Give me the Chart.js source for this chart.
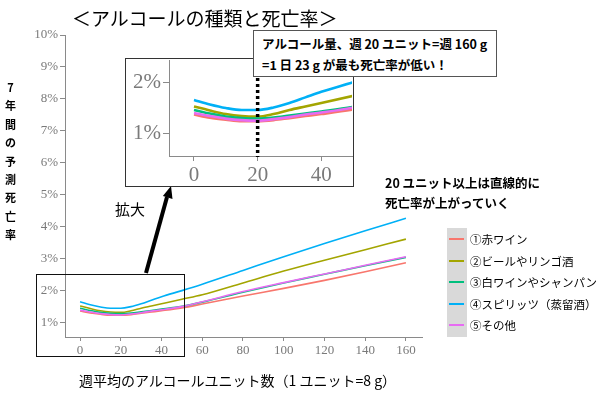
<!DOCTYPE html>
<html>
<head>
<meta charset="utf-8">
<script src="https://cdn.jsdelivr.net/npm/chart.js@4.4.0/dist/chart.umd.min.js"></script>
<style>
  body { margin: 0; background: #fff; font-family: "Noto Sans CJK JP", sans-serif; }
  #wrap { position: relative; width: 600px; height: 396px; overflow: hidden; }
  .abs { position: absolute; white-space: nowrap; }
  #title { left: 72px; top: 5px; font-size: 19px; line-height: 26px; }
  #ytitle { left: 3px; top: 78px; width: 15px; font-size: 11px; font-weight: bold; line-height: 18.4px; text-align: center; white-space: normal; }
  #xtitle { left: 79px; top: 370px; font-size: 14px; line-height: 20px; }
  #inset { left: 125px; top: 58px; width: 228px; height: 128px; background: #fff; }
  #insetBorder { left: 125px; top: 58px; width: 227px; height: 127px; border: 1px solid #333; }
  #note { left: 253px; top: 30px; width: 244px; height: 47px; background: #fff; border: 1px solid #555;
          font-size: 12.5px; font-weight: bold; line-height: 21px; padding: 0 0 0 8px; box-sizing: border-box; padding-top: 2px; }
  #zoomBox { left: 36px; top: 274px; width: 147px; height: 81px; border: 1px solid #111; }
  #kakudai { left: 115px; top: 199px; font-size: 15px; line-height: 20px; }
  #trend { left: 385px; top: 173px; font-size: 12.5px; font-weight: bold; line-height: 19.5px; }
  #legendBg { left: 447px; top: 228px; width: 20px; height: 109px; background: #d9d9d9; }
  .key { position: absolute; left: 449px; width: 15px; height: 2px; }
  .lab { position: absolute; left: 470px; font-size: 11.5px; line-height: 16px; white-space: nowrap; }
</style>
</head>
<body>
<div id="wrap">
  <canvas id="mainChart" width="600" height="396" class="abs" style="left:0;top:0"></canvas>
  <div id="title" class="abs">＜アルコールの種類と死亡率＞</div>
  <div id="ytitle" class="abs">7<br>年<br>間<br>の<br>予<br>測<br>死<br>亡<br>率</div>
  <div id="xtitle" class="abs">週平均のアルコールユニット数（1 ユニット=8 g）</div>
  <div id="zoomBox" class="abs"></div>
  <div id="kakudai" class="abs">拡大</div>
  <div id="trend" class="abs">20 ユニット以上は直線的に<br>死亡率が上がっていく</div>
  <div id="legendBg" class="abs"></div>
  <div id="legend"></div>
  <svg class="abs" style="left:0;top:0" width="600" height="396">
    <line x1="146" y1="273" x2="167" y2="197" stroke="#000" stroke-width="4"/>
    <polygon points="171,186 172.5,199 162.9,196" fill="#000"/>
  </svg>
  <div id="inset" class="abs"><canvas id="insetChart" width="228" height="128"></canvas></div>
  <div id="insetBorder" class="abs"></div>
  <div id="note" class="abs">アルコール量、週 20 ユニット=週 160 g<br>=1 日 23 g が最も死亡率が低い！</div>
</div>
<script>
// weekly alcohol units (x) and predicted 7-year mortality (%)
const units = [0, 5, 10, 15, 20, 25, 30, 35, 40, 50, 60, 80, 100, 120, 140, 160];
const redWine    = [1.37, 1.31, 1.27, 1.24, 1.24, 1.26, 1.30, 1.34, 1.38, 1.47, 1.59, 1.84, 2.08, 2.33, 2.60, 2.88];
const beerCider  = [1.53, 1.45, 1.38, 1.34, 1.33, 1.38, 1.46, 1.53, 1.60, 1.74, 1.88, 2.25, 2.62, 2.96, 3.29, 3.62];
const whiteWine  = [1.46, 1.39, 1.33, 1.30, 1.29, 1.31, 1.35, 1.39, 1.43, 1.52, 1.65, 1.96, 2.25, 2.52, 2.79, 3.05];
const spirits    = [1.66, 1.57, 1.50, 1.46, 1.46, 1.51, 1.60, 1.71, 1.82, 2.01, 2.21, 2.64, 3.07, 3.48, 3.88, 4.27];
const otherDrink = [1.40, 1.34, 1.29, 1.26, 1.25, 1.28, 1.32, 1.37, 1.41, 1.51, 1.66, 1.98, 2.26, 2.53, 2.80, 3.07];

const seriesNames = ["①赤ワイン", "②ビールやリンゴ酒", "③白ワインやシャンパン", "④スピリッツ（蒸留酒）", "⑤その他"];
const seriesData = [redWine, beerCider, whiteWine, spirits, otherDrink];
const seriesColors = ["#F8766D", "#A3A500", "#00BF7D", "#00B0F6", "#E76BF3"];

const xTicks = [0, 20, 40, 60, 80, 100, 120, 140, 160];
const yTicks = [1, 2, 3, 4, 5, 6, 7, 8, 9, 10];
const insetXTicks = [0, 20, 40];
const insetYTicks = [1, 2];
const optimumUnits = 20;

// html legend
const legend = document.getElementById("legend");
seriesNames.forEach((name, i) => {
    const top = 239 + i * 21.5;
    legend.insertAdjacentHTML("beforeend",
        `<div class="key" style="top:${top - 1}px;background:${seriesColors[i]}"></div>` +
        `<div class="lab" style="top:${top - 8}px">${name}</div>`);
});

function makeDatasets(width) {
    return seriesNames.map((name, i) => ({
        label: name,
        data: units.map((u, j) => ({ x: u, y: seriesData[i][j] })),
        borderColor: seriesColors[i],
        borderWidth: width,
        pointRadius: 0,
        cubicInterpolationMode: "monotone",
        order: 5 - i,
        clip: 0
    }));
}

function axis(min, max, ticks, fmt, fontSize, tickLen, fixedSize, isY) {
    return {
        type: "linear",
        min: min,
        max: max,
        afterBuildTicks: a => { a.ticks = ticks.map(v => ({ value: v })); },
        afterFit: s => {
            if (isY) {
                s.width = fixedSize;
                s.paddingTop = 0;
                s.paddingBottom = 0;
            } else {
                s.height = fixedSize;
            }
        },
        grid: { display: true, drawOnChartArea: false, drawTicks: true, tickLength: tickLen, color: "#8a8a8a", lineWidth: 1 },
        border: { display: true, color: "#8a8a8a", width: 1 },
        ticks: {
            color: "#7a7a7a",
            padding: 2,
            font: { family: "Liberation Serif", size: fontSize },
            callback: fmt,
            maxRotation: 0,
            autoSkip: false
        }
    };
}

new Chart(document.getElementById("mainChart"), {
    type: "line",
    data: { datasets: makeDatasets(1.6) },
    options: {
        responsive: false,
        animation: false,
        layout: { padding: { left: 0, top: 35, right: 178, bottom: 0 } },
        plugins: { legend: { display: false }, tooltip: { enabled: false } },
        scales: {
            x: axis(-7.4, 167.9, xTicks, v => v, 13, 4, 59, false),
            y: axis(0.56, 10, yTicks, v => v + "%", 13, 5, 65, true)
        }
    }
});

const dottedLine = {
    id: "dottedLine",
    afterDatasetsDraw(chart) {
        const ctx = chart.ctx;
        const x = chart.scales.x.getPixelForValue(optimumUnits);
        ctx.save();
        ctx.setLineDash([3, 3]);
        ctx.lineWidth = 3.5;
        ctx.strokeStyle = "#000";
        ctx.beginPath();
        ctx.moveTo(x, chart.chartArea.top);
        ctx.lineTo(x, chart.chartArea.bottom + 1);
        ctx.stroke();
        ctx.restore();
    }
};

new Chart(document.getElementById("insetChart"), {
    type: "line",
    data: { datasets: makeDatasets(2.6) },
    options: {
        responsive: false,
        animation: false,
        layout: { padding: { left: 0, top: 2, right: 1, bottom: 0 } },
        plugins: { legend: { display: false }, tooltip: { enabled: false } },
        scales: {
            x: axis(-7.85, 49.65, insetXTicks, v => v, 21, 5, 30, false),
            y: axis(0.55, 2.45, insetYTicks, v => v + "%", 21, 6, 44, true)
        }
    },
    plugins: [dottedLine]
});
</script>
</body>
</html>
